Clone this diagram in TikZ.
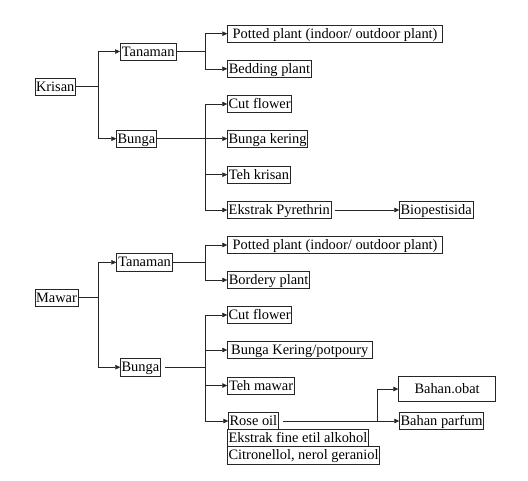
\documentclass[tikz,border=0pt]{standalone}
\usepackage{fontspec}
\setmainfont{Liberation Serif}
\usetikzlibrary{arrows.meta}

\begin{document}
\begin{tikzpicture}[x=1pt,y=-1pt]
\tikzstyle{every node}+=[inner xsep=1pt, inner ysep=0.8pt]
\tikzstyle{box}=[draw=black!85, line width=0.6pt, anchor=west, minimum width=#1, text height=12.5pt, text depth=3.2pt, font=\fontsize{14.4}{17}\selectfont]
\tikzstyle{link}=[black!85, line width=0.6pt]
\tikzstyle{arr}=[link, -{Triangle[length=5pt,width=4.5pt]}]
\useasboundingbox (0,0) rectangle (528,480);
% Krisan
\node[box=39pt] (krisan) at (34.7,86.5) {Krisan};
\node[box=55.7pt] (ktan) at (120,51.5) {Tanaman};
\node[box=38.4pt] (kbunga) at (116.3,138.7) {Bunga};
\node[box=215pt] (kpot) at (227.3,33.7) {Potted plant (indoor/ outdoor plant)};
\node[box=83.7pt] (kbed) at (227.3,68.8) {Bedding plant};
\node[box=63pt] (kcut) at (227.3,104) {Cut flower};
\node[box=79.4pt] (kker) at (227.3,138.7) {Bunga kering};
\node[box=62.7pt] (kteh) at (227.3,174.7) {Teh krisan};
\node[box=103.4pt] (kpyr) at (227.3,210) {Ekstrak Pyrethrin};
\node[box=71.4pt] (kbio) at (399.3,210) {Biopestisida};
\coordinate (kj) at (98.3,86.5);
\coordinate (ktj) at (205.7,51.5);
\coordinate (kbj) at (205.7,138.7);
\draw[link] (krisan) -- (kj);
\draw[arr] (kj) |- (ktan);
\draw[arr] (kj) |- (kbunga);
\draw[link] (ktan) -- (ktj);
\draw[arr] (ktj) |- (kpot);
\draw[arr] (ktj) |- (kbed);
\draw[link] (kbunga) -- (kbj);
\draw[arr] (kbj) |- (kcut);
\draw[arr] (kbj) |- (kker);
\draw[arr] (kbj) |- (kteh);
\draw[arr] (kbj) |- (kpyr);
\draw[arr] ([xshift=3.3pt]kpyr.east) -- (kbio);
% Mawar
\node[box=43pt] (mawar) at (34.7,297.7) {Mawar};
\node[box=56pt] (mtan) at (116.3,262.3) {Tanaman};
\node[box=38.4pt] (mbunga) at (120.3,367.2) {Bunga};
\node[box=215pt] (mpot) at (227.3,245) {Potted plant (indoor/ outdoor plant)};
\node[box=82pt] (mbor) at (227.3,280) {Bordery plant};
\node[box=63pt] (mcut) at (227.3,315) {Cut flower};
\node[box=144.4pt] (mker) at (227.3,350) {Bunga Kering/potpoury};
\node[box=67pt] (mteh) at (227.3,385.5) {Teh mawar};
\node[box=46.4pt] (mrose) at (228.3,421) {Rose oil};
\node[box=138.7pt] (mekstrak) at (227.3,438) {Ekstrak fine etil alkohol};
\node[box=151pt] (mcitro) at (227.3,455.3) {Citronellol, nerol geraniol};
\node[box=97pt, minimum height=24.6pt] (mobat) at (398.3,389) {Bahan.obat\hspace{6pt}};
\node[box=84pt] (mparfum) at (399.3,421) {Bahan parfum};
\coordinate (mj) at (98.3,297.7);
\coordinate (mtj) at (205.7,262.3);
\coordinate (mbj) at (205.7,367.2);
\coordinate (mrj) at (377.3,421);
\draw[link] (mawar) -- (mj);
\draw[arr] (mj) |- (mtan);
\draw[arr] (mj) |- (mbunga);
\draw[link] (mtan) -- (mtj);
\draw[arr] (mtj) |- (mpot);
\draw[arr] (mtj) |- (mbor);
\draw[link] ([xshift=4.6pt]mbunga.east) -- (mbj);
\draw[arr] (mbj) |- (mcut);
\draw[arr] (mbj) |- (mker);
\draw[arr] (mbj) |- (mteh);
\draw[arr] (mbj) |- (mrose);
\draw[arr] ([xshift=4.6pt]mrose.east) -- (mparfum);
\draw[arr] (mrj) |- (mobat);
\end{tikzpicture}
\end{document}
